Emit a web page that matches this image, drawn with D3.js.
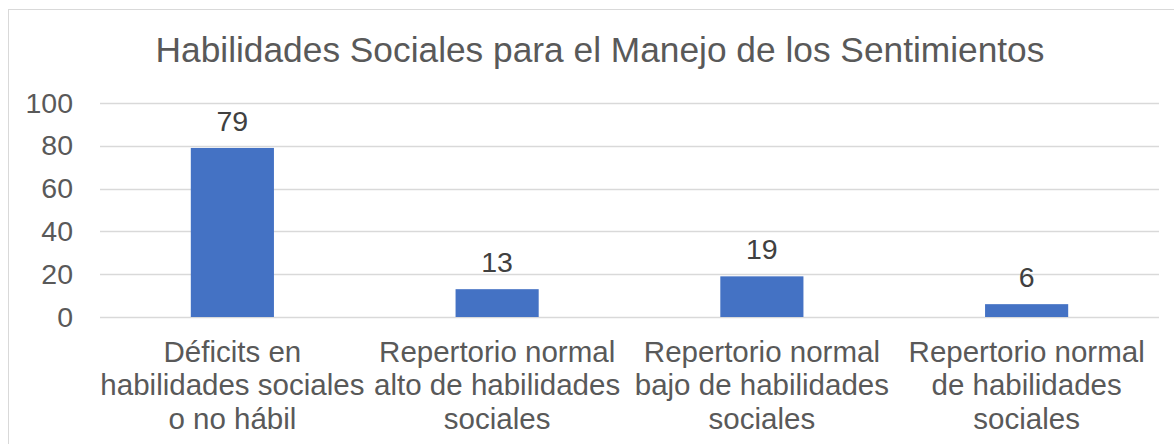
<!DOCTYPE html>
<html>
<head>
<meta charset="utf-8">
<script src="https://cdn.jsdelivr.net/npm/d3@7"></script>
<style>
  html, body { margin: 0; padding: 0; background: #fff; }
  svg { display: block; font-family: "Liberation Sans", Arial, sans-serif; }
</style>
</head>
<body>
<svg width="1174" height="444"></svg>
<script>
// Chart data
var chartTitle = "Habilidades Sociales para el Manejo de los Sentimientos";
var categories = [
    "Déficits en\nhabilidades sociales\no no hábil",
    "Repertorio normal\nalto de habilidades\nsociales",
    "Repertorio normal\nbajo de habilidades\nsociales",
    "Repertorio normal\nde habilidades\nsociales"
];
var values = [79, 13, 19, 6];
var yTicks = [0, 20, 40, 60, 80, 100];

(function () {
    "use strict";

    var svg = d3.select("svg");
    var margin = { top: 103, right: 15, bottom: 127, left: 100 };
    var width = 1174 - margin.left - margin.right;
    var height = 444 - margin.top - margin.bottom;

    // Chart frame (right and bottom edges run off the picture)
    svg.append("rect")
        .attr("x", 8.5)
        .attr("y", 9.5)
        .attr("width", 1200)
        .attr("height", 460)
        .attr("fill", "#fff")
        .attr("stroke", "#d9d9d9")
        .attr("stroke-width", 1);

    // Title
    svg.append("text")
        .attr("x", 600)
        .attr("y", 62)
        .attr("text-anchor", "middle")
        .attr("fill", "#595959")
        .style("font-size", "35.3px")
        .text(chartTitle);

    var g = svg.append("g")
        .attr("transform", "translate(" + margin.left + "," + margin.top + ")");

    var x = d3.scaleBand()
        .domain(categories)
        .range([0, width])
        .padding(0);

    var y = d3.scaleLinear()
        .domain([0, 100])
        .range([height, 0]);

    // Gridlines
    g.append("g")
        .selectAll("line")
        .data(yTicks)
        .enter()
        .append("line")
        .attr("x1", 0)
        .attr("x2", width)
        .attr("y1", function (d) { return Math.round(y(d)) + 0.5; })
        .attr("y2", function (d) { return Math.round(y(d)) + 0.5; })
        .attr("stroke", "#d9d9d9")
        .attr("stroke-width", 1.5);

    // Y axis labels
    var yAxis = g.append("g")
        .call(d3.axisLeft(y).tickValues(yTicks).tickSize(0).tickPadding(27));
    yAxis.select(".domain").remove();
    yAxis.selectAll("text")
        .attr("fill", "#595959")
        .style("font-size", "28.5px")
        .style("font-family", "Liberation Sans, Arial, sans-serif");

    // Bars
    var barWidth = x.bandwidth() * 0.314;
    g.selectAll("rect.bar")
        .data(values)
        .enter()
        .append("rect")
        .attr("class", "bar")
        .attr("x", function (d, i) { return x(categories[i]) + (x.bandwidth() - barWidth) / 2; })
        .attr("y", function (d) { return y(d); })
        .attr("width", barWidth)
        .attr("height", function (d) { return height - y(d); })
        .attr("fill", "#4472c4");

    // Value labels
    g.selectAll("text.value")
        .data(values)
        .enter()
        .append("text")
        .attr("class", "value")
        .attr("x", function (d, i) { return x(categories[i]) + x.bandwidth() / 2; })
        .attr("y", function (d) { return y(d) - 17; })
        .attr("text-anchor", "middle")
        .attr("fill", "#404040")
        .style("font-size", "28.5px")
        .text(function (d) { return d; });

    // Category labels, one tspan per line
    var catLabels = g.selectAll("text.cat")
        .data(categories)
        .enter()
        .append("text")
        .attr("class", "cat")
        .attr("text-anchor", "middle")
        .attr("fill", "#595959")
        .style("font-size", "29.5px")
        .attr("transform", function (d) {
            return "translate(" + (x(d) + x.bandwidth() / 2) + "," + (height + 45) + ")";
        });

    catLabels.selectAll("tspan")
        .data(function (d) { return d.split("\n"); })
        .enter()
        .append("tspan")
        .attr("x", 0)
        .attr("y", function (d, i) { return i * 33.3; })
        .text(function (d) { return d; });
})();
</script>
</body>
</html>
